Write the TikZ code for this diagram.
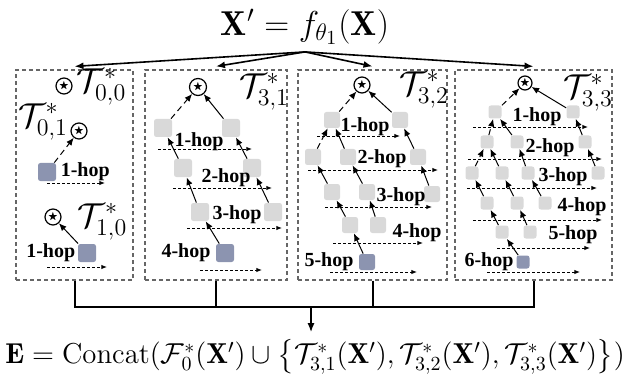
\documentclass[tikz,border=0pt]{standalone}
\usepackage{amsmath,amssymb,bm}
\usepackage{fontspec}
\newfontfamily\hopfont{Liberation Serif}
\usetikzlibrary{arrows.meta, calc, positioning}
\definecolor{cellgray}{HTML}{D9D9D9}
\definecolor{cellblue}{HTML}{8C94B0}

\begin{document}
\begin{tikzpicture}[
    x=0.5pt, y=-0.5pt,
    >={Latex[length=3.8pt,width=3.2pt]},
    panel/.style={draw=black!60, dash pattern=on 2pt off 1.5pt,
                  line width=0.6pt, minimum height=105pt, inner sep=0pt},
    lightcell/.style={fill=cellgray, rounded corners=1.2pt,
                      minimum size=#1, inner sep=0pt},
    lightcell/.default=8pt,
    darkcell/.style={fill=cellblue, rounded corners=1.2pt,
                     minimum size=#1, inner sep=0pt},
    darkcell/.default=8pt,
    rootnode/.style={draw, circle, line width=0.6pt, fill=white,
                     minimum size=#1, inner sep=0pt, font=\tiny},
    rootnode/.default=8pt,
    treelabel/.style={font=\LARGE, inner sep=0pt},
    hoplabel/.style={font=\fontsize{10}{12}\selectfont\hopfont\bfseries,
                     inner sep=0pt},
    edge/.style={->, line width=0.5pt},
    dashededge/.style={->, line width=0.5pt, dash pattern=on 3pt off 2pt},
    hopaxis/.style={-{Latex[length=2.8pt,width=2.2pt]}, line width=0.45pt,
                    dash pattern=on 1.5pt off 1pt},
    fan/.style={->, line width=0.8pt, >={Latex[length=4.5pt,width=3.5pt]}},
    bus/.style={line width=1pt},
]
\useasboundingbox (0,0) rectangle (630,379);

% ---------------- input features and the four panels --------------------
\node[font=\LARGE] (title) at (305,27) {$\mathbf{X}' = f_{\theta_1}(\mathbf{X})$};

\node[panel, minimum width=58.5pt] (p1) at (74.5,175) {};
\node[panel, minimum width=71pt]   (p2) at (216,175)  {};
\node[panel, minimum width=74.5pt] (p3) at (372.5,175) {};
\node[panel, minimum width=78.5pt] (p4) at (533.5,175) {};

\foreach \p in {p1,p2,p3,p4} {%
    \draw[fan] (title.south) -- ([yshift=1.5pt]\p.north);
}

% ---------------- panel 1: T_{0,0}, T_{0,1}, T_{1,0} --------------------
\node[rootnode] (r00) at (64,86) {$\bigstar$};
\node[treelabel, anchor=west] (t00) at (76,87) {$\mathcal{T}_{0,0}^{*}$};

\node[treelabel] (t01) at (43,122) {$\mathcal{T}_{0,1}^{*}$};
\node[rootnode] (r01) at (79,131) {$\bigstar$};
\node[darkcell=9pt] (d01) at (47,172) {};
\node[hoplabel, right=2pt of d01] (h01) {1-hop};
\draw[dashededge] (d01) -- (r01);

\node[rootnode] (r10) at (53,217) {$\bigstar$};
\node[treelabel, anchor=west] (t10) at (77,222) {$\mathcal{T}_{1,0}^{*}$};
\node[darkcell=9pt] (d10) at (87,253) {};
\node[hoplabel, left=1pt of d10] (h10) {1-hop};
\draw[edge] (d10) -- (r10);

% ---------------- panel 2: T_{3,1} --------------------------------------
\node[rootnode=8.5pt] (r31) at (198,87) {$\bigstar$};
\node[treelabel] (t31) at (264,92) {$\mathcal{T}_{3,1}^{*}$};
\node[lightcell=9pt] (q1a) at (163,128) {};
\node[lightcell=9pt] (q1b) at (231,128) {};
\node[lightcell=9pt] (q2a) at (183,168) {};
\node[lightcell=9pt] (q2b) at (252,168) {};
\node[lightcell=9pt] (q3a) at (200,212) {};
\node[lightcell=9pt] (q3b) at (273,212) {};
\node[darkcell=9pt]  (q4)  at (225,253) {};

\node[hoplabel] (hq1) at (199,142) {1-hop};
\node[hoplabel] (hq2) at (226,178) {2-hop};
\node[hoplabel] (hq3) at (237,215) {3-hop};
\node[hoplabel] (hq4) at (186,253) {4-hop};

\draw[dashededge] (q1a) -- (r31);
\draw[edge] (q1b) -- (r31);
\draw[edge] (q2a) -- (q1a);
\draw[edge] (q2b) -- (q1b);
\draw[edge] (q3a) -- (q2a);
\draw[edge] (q3b) -- (q2b);
\draw[edge] (q4) -- (q3a);

% ---------------- panel 3: T_{3,2} --------------------------------------
\node[rootnode] (r32) at (362,85) {$\bigstar$};
\node[treelabel] (t32) at (424,90) {$\mathcal{T}_{3,2}^{*}$};
\node[lightcell] (u1a) at (332,120) {};
\node[lightcell] (u1b) at (400,120) {};
\node[lightcell] (u2a) at (313,157) {};
\node[lightcell] (u2b) at (348,157) {};
\node[lightcell] (u2c) at (418,157) {};
\node[lightcell] (u3a) at (332,192) {};
\node[lightcell] (u3b) at (367,192) {};
\node[lightcell] (u3c) at (432,194) {};
\node[lightcell] (u4a) at (350,225) {};
\node[lightcell] (u4b) at (378,225) {};
\node[darkcell]  (u5)  at (367,262) {};

\node[hoplabel] (hu1) at (365,127) {1-hop};
\node[hoplabel] (hu2) at (382,159) {2-hop};
\node[hoplabel] (hu3) at (401,197) {3-hop};
\node[hoplabel] (hu4) at (417,233) {4-hop};
\node[hoplabel] (hu5) at (329,262) {5-hop};

\draw[dashededge] (u1a) -- (r32);
\draw[edge] (u1b) -- (r32);
\draw[dashededge] (u2a) -- (u1a);
\draw[edge] (u2b) -- (u1a);
\draw[edge] (u2c) -- (u1b);
\draw[edge] (u3a) -- (u2a);
\draw[edge] (u3b) -- (u2b);
\draw[edge] (u3c) -- (u2c);
\draw[edge] (u4a) -- (u3a);
\draw[edge] (u4b) -- (u3b);
\draw[edge] (u5) -- (u4a);

% ---------------- panel 4: T_{3,3} --------------------------------------
\node[rootnode=7pt] (r33) at (525,83) {$\bigstar$};
\node[treelabel] (t33) at (588,93) {$\mathcal{T}_{3,3}^{*}$};
\node[lightcell=6.5pt] (v1a) at (495,112) {};
\node[lightcell=6.5pt] (v1b) at (573,112) {};
\node[lightcell=6.5pt] (v2a) at (487,142) {};
\node[lightcell=6.5pt] (v2b) at (517,142) {};
\node[lightcell=6.5pt] (v2c) at (585,142) {};
\node[lightcell=6.5pt] (v3a) at (472,173) {};
\node[lightcell=6.5pt] (v3b) at (502,173) {};
\node[lightcell=6.5pt] (v3c) at (528,173) {};
\node[lightcell=6.5pt] (v3d) at (598,173) {};
\node[lightcell=6.5pt] (v4a) at (487,203) {};
\node[lightcell=6.5pt] (v4b) at (517,203) {};
\node[lightcell=6.5pt] (v4c) at (545,203) {};
\node[lightcell=6.5pt] (v5a) at (502,232) {};
\node[lightcell=6.5pt] (v5b) at (530,232) {};
\node[darkcell=6.5pt]  (v6)  at (523,262) {};

\node[hoplabel] (hv1) at (537,117) {1-hop};
\node[hoplabel] (hv2) at (550,148) {2-hop};
\node[hoplabel] (hv3) at (563,177) {3-hop};
\node[hoplabel] (hv4) at (582,207) {4-hop};
\node[hoplabel] (hv5) at (573,235) {5-hop};
\node[hoplabel] (hv6) at (489,262) {6-hop};

\draw[dashededge] (v1a) -- (r33);
\draw[edge] (v1b) -- (r33);
\draw[dashededge] (v2a) -- (v1a);
\draw[edge] (v2b) -- (v1a);
\draw[edge] (v2c) -- (v1b);
\draw[dashededge] (v3a) -- (v2a);
\draw[edge] (v3b) -- (v2a);
\draw[edge] (v3c) -- (v2b);
\draw[edge] (v3d) -- (v2c);
\draw[edge] (v4a) -- (v3a);
\draw[edge] (v4b) -- (v3b);
\draw[edge] (v4c) -- (v3c);
\draw[edge] (v5a) -- (v4a);
\draw[edge] (v5b) -- (v4b);
\draw[edge] (v6) -- (v5a);

% hop direction arrows under each hop label: name/start/end/height
\foreach \n/\a/\b/\y in {a1/47/105/183, a2/47/107/267,
        b1/158/252/149, b2/173/272/188, b3/187/282/228, b4/200/262/270,
        c1/317/400/136, c2/308/438/170, c3/325/432/207, c4/333/423/243,
        c5/330/417/272,
        d1/473/588/127, d2/468/602/159, d3/467/597/188, d4/473/602/220,
        d5/497/590/248, d6/487/580/272} {%
    \coordinate (\n s) at (\a,\y);
    \coordinate (\n e) at (\b,\y);
    \draw[hopaxis] (\n s) -- (\n e);
}

% ---------------- concatenation -----------------------------------------
\node[font=\Large] (concat) at (315,357)
    {$\mathbf{E} = \mathrm{Concat}(\mathcal{F}_0^{*}(\mathbf{X}')\cup
      \big\{\mathcal{T}_{3,1}^{*}(\mathbf{X}'),\mathcal{T}_{3,2}^{*}(\mathbf{X}'),
      \mathcal{T}_{3,3}^{*}(\mathbf{X}')\big\})$};

\coordinate (join) at (311,307);
\draw[bus] (p1.south) |- (join) -| (p4.south);
\draw[bus] (p2.south) -- (p2.south |- join);
\draw[bus] (p3.south) -- (p3.south |- join);
\draw[fan] (join) -- (join |- concat.north);

\end{tikzpicture}
\end{document}
